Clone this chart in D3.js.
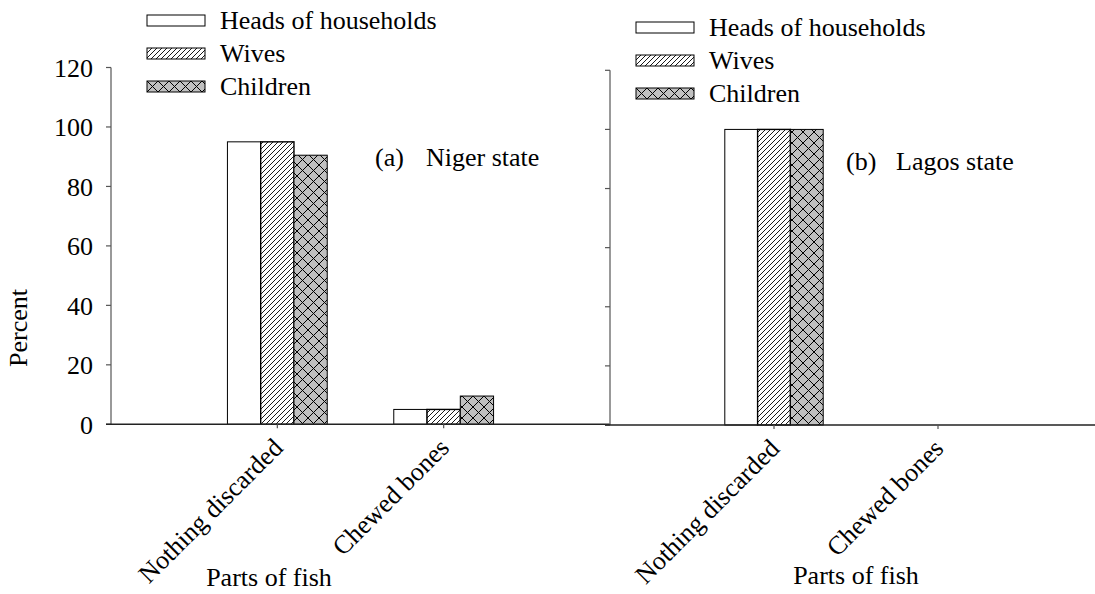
<!DOCTYPE html>
<html>
<head>
<meta charset="utf-8">
<script src="https://cdn.jsdelivr.net/npm/d3@7"></script>
</head>
<body style="margin:0">
<svg id="chart" width="1095" height="594"></svg>
<script>
//--------data----------
const categories = ['Nothing discarded', 'Chewed bones'];
const seriesNames = ['Heads of households', 'Wives', 'Children'];
const yTicks = [0, 20, 40, 60, 80, 100, 120];

// Niger state (a)
const nigerHeads = [95, 5];
const nigerWives = [95, 5];
const nigerChildren = [90.5, 9.5];

// Lagos state (b)
const lagosHeads = [100, 0];
const lagosWives = [100, 0];
const lagosChildren = [100, 0];

//--------code----------
const fontSize = 26;

let svg = d3.select('#chart');

// hatch patterns
let defs = svg.append('defs');
let hatch = defs.append('pattern')
  .attr('id', 'hatch')
  .attr('patternUnits', 'userSpaceOnUse')
  .attr('width', 5).attr('height', 5);
hatch.append('rect').attr('width', 5).attr('height', 5).attr('fill', '#fff');
hatch.append('path').attr('d', 'M-1,1 L1,-1 M0,5 L5,0 M4,6 L6,4')
  .attr('stroke', '#000').attr('stroke-width', 0.9);
let cross = defs.append('pattern')
  .attr('id', 'cross')
  .attr('patternUnits', 'userSpaceOnUse')
  .attr('width', 11).attr('height', 11);
cross.append('rect').attr('width', 11).attr('height', 11).attr('fill', '#c0c0c0');
cross.append('path').attr('d', 'M0,0 L11,11 M0,11 L11,0')
  .attr('stroke', '#000').attr('stroke-width', 1);

const fills = ['#fff', 'url(#hatch)', 'url(#cross)'];

const panels = [
  {
    series: [nigerHeads, nigerWives, nigerChildren],
    xRange: [111, 610], yRange: [424.3, 67.5], axisEnd: 610,
    labels: true,
    legend: {x: 147, y: 15},
    tag: '(a)', tagX: 375, title: 'Niger state', titleX: 426, titleY: 166,
    xTitleX: 269, xTitleY: 586
  },
  {
    series: [lagosHeads, lagosWives, lagosChildren],
    xRange: [610, 1102], yRange: [425, 70.3], axisEnd: 1095,
    labels: false,
    legend: {x: 636, y: 22},
    tag: '(b)', tagX: 846, title: 'Lagos state', titleX: 896, titleY: 170,
    xTitleX: 856, xTitleY: 584
  }
];

panels.forEach(p => drawPanel(p));

// y-axis title
label(svg.append('text'))
  .attr('transform', 'translate(27,328) rotate(-90)')
  .attr('text-anchor', 'middle')
  .text('Percent');

function label(sel){
  return sel
    .style('font-family', '"Times New Roman", "Liberation Serif", serif')
    .style('font-size', fontSize + 'px');
}

function drawPanel(p){
  let sx = d3.scalePoint().domain(categories).range(p.xRange).padding(1);
  let sy = d3.scaleLinear().domain([0, 120]).range(p.yRange);
  let bw = sx.step() * 0.2;
  let x0 = p.xRange[0];
  let yBase = sy(0);

  // bars
  p.series.forEach((vals, si) => {
    svg.append('g')
      .selectAll('rect')
      .data(vals.map((v, i) => ({v, c: categories[i]})))
      .join('rect')
      .attr('x', d => sx(d.c) + (si - 1.5) * bw)
      .attr('y', d => sy(d.v))
      .attr('width', bw)
      .attr('height', d => yBase - sy(d.v))
      .attr('fill', fills[si])
      .attr('stroke', d => d.v > 0 ? '#000' : 'none')
      .attr('stroke-width', si === 1 ? 1.4 : 1);
  });

  // y axis
  let gy = svg.append('g').attr('transform', `translate(${x0},0)`);
  gy.append('line')
    .attr('y1', sy(0)).attr('y2', sy(120))
    .attr('stroke', '#777').attr('stroke-width', 1.5);
  gy.selectAll('.tk')
    .data(yTicks)
    .join('line')
    .attr('class', 'tk')
    .attr('x1', -5).attr('x2', 0)
    .attr('y1', d => sy(d)).attr('y2', d => sy(d))
    .attr('stroke', '#555').attr('stroke-width', 1.2);
  if(p.labels){
    label(gy.selectAll('.tl')
      .data(yTicks)
      .join('text'))
      .attr('class', 'tl')
      .attr('x', -18)
      .attr('y', d => sy(d))
      .attr('dy', '0.36em')
      .attr('text-anchor', 'end')
      .text(d => d);
  }

  // x axis
  let gx = svg.append('g').attr('transform', `translate(0,${yBase})`);
  gx.append('line')
    .attr('x1', x0 - 5).attr('x2', p.axisEnd)
    .attr('stroke', '#222').attr('stroke-width', 1.5);
  gx.selectAll('.tk')
    .data(categories)
    .join('line')
    .attr('class', 'tk')
    .attr('x1', d => sx(d)).attr('x2', d => sx(d))
    .attr('y1', 0).attr('y2', 4)
    .attr('stroke', '#555').attr('stroke-width', 1.2);

  // rotated category labels
  label(svg.append('g')
    .selectAll('text')
    .data(categories)
    .join('text'))
    .attr('transform', d => `translate(${sx(d) + 7},${yBase + 25}) rotate(-45)`)
    .attr('text-anchor', 'end')
    .text(d => d);

  // x-axis title
  label(svg.append('text'))
    .attr('x', p.xTitleX).attr('y', p.xTitleY)
    .attr('text-anchor', 'middle')
    .text('Parts of fish');

  // panel tag + title
  label(svg.append('text'))
    .attr('x', p.tagX).attr('y', p.titleY)
    .text(p.tag);
  label(svg.append('text'))
    .attr('x', p.titleX).attr('y', p.titleY)
    .text(p.title);

  // legend
  let lg = svg.append('g')
    .attr('transform', `translate(${p.legend.x},${p.legend.y})`);
  let rows = lg.selectAll('g')
    .data(seriesNames)
    .join('g')
    .attr('transform', (d, i) => `translate(0,${i * 33})`);
  rows.append('rect')
    .attr('width', 58).attr('height', 11)
    .attr('fill', (d, i) => fills[i])
    .attr('stroke', '#000').attr('stroke-width', 1);
  label(rows.append('text'))
    .attr('x', 73).attr('y', 14)
    .text(d => d);
}
</script>
</body>
</html>
